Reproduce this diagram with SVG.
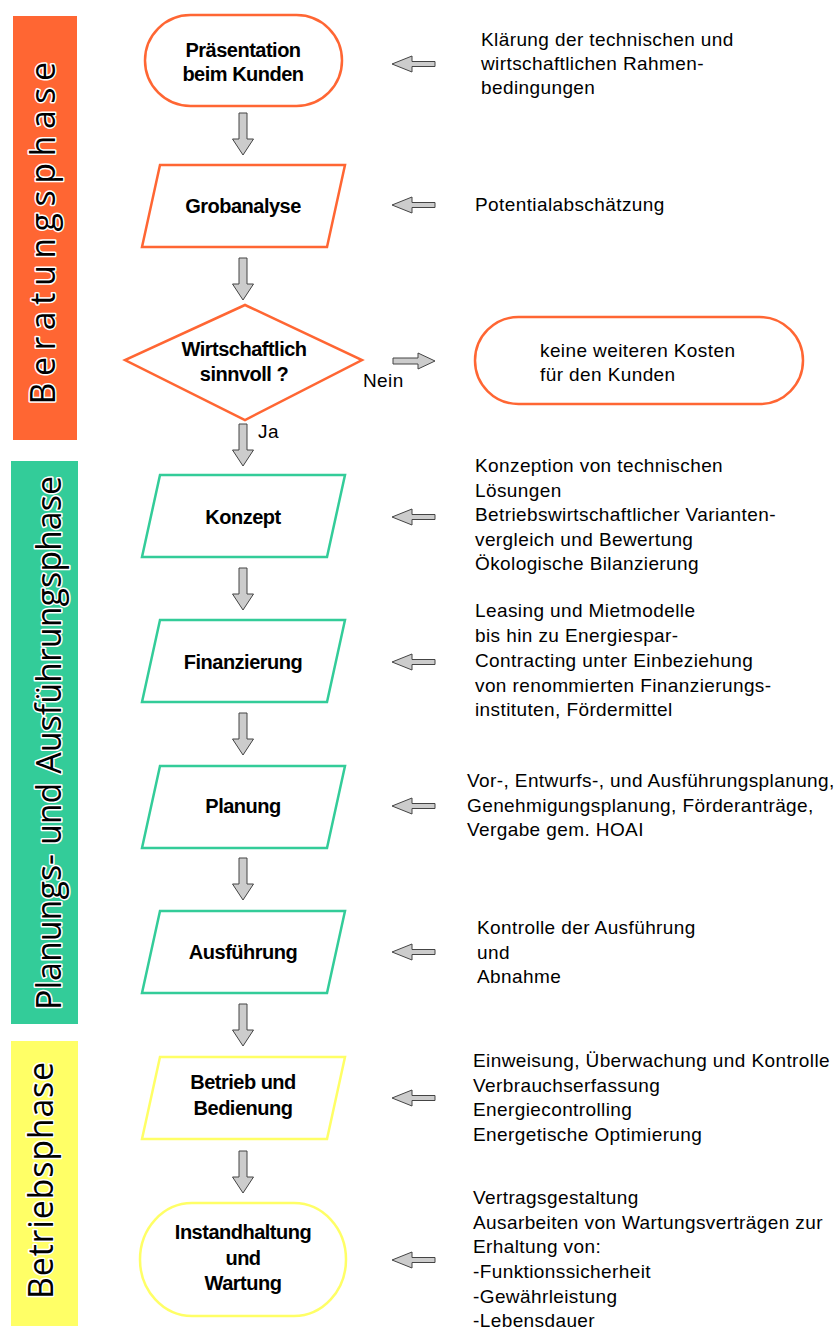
<svg xmlns="http://www.w3.org/2000/svg" width="839" height="1329" viewBox="0 0 839 1329">
<defs>
<path id="down" d="M -4,0 H 4 V 26 H 10.5 L 0,42 L -10.5,26 H -4 Z"/>
<path id="left" d="M 0,0 L 20,-8 V -2.5 H 43 V 2.5 H 20 V 8 Z"/>
<style>
.bg{fill:#ffffff}
.phase{font-family:"Open Sans","Noto Sans",sans-serif;font-size:34px;fill:#000;stroke:#fff;stroke-width:3px;paint-order:stroke;stroke-linejoin:round;text-anchor:middle}
.o{fill:#fff;stroke:#FF6633;stroke-width:2.5}
.g{fill:#fff;stroke:#33CC99;stroke-width:2.5}
.y{fill:#fff;stroke:#FFFF66;stroke-width:2.5}
.nt{font-family:"Liberation Sans",Arial,sans-serif;font-weight:bold;font-size:20px;fill:#000;text-anchor:middle;letter-spacing:-0.5px}
.rt{font-family:"Liberation Sans",Arial,sans-serif;font-size:19px;fill:#000;letter-spacing:0.4px}
.arr{fill:#CCCCCC;stroke:#444;stroke-width:1}
</style>
</defs>
<rect class="bg" x="0" y="0" width="839" height="1329"/>

<g id="phase-beratung">
<rect x="13" y="16" width="64" height="424" fill="#FF6633"/>
<text class="phase" transform="translate(55,230) rotate(-90)" letter-spacing="6.5">Beratungsphase</text>
</g>
<g id="phase-planung">
<rect x="11" y="461" width="67" height="563" fill="#33CC99"/>
<text class="phase" transform="translate(61,743) rotate(-90)">Planungs- und Ausführungsphase</text>
</g>
<g id="phase-betrieb">
<rect x="11" y="1041" width="67" height="285" fill="#FFFF66"/>
<text class="phase" transform="translate(53,1180) rotate(-90)" letter-spacing="0.8">Betriebsphase</text>
</g>

<g id="connectors">
<use href="#down" class="arr" x="243" y="113"/>
<use href="#down" class="arr" x="243" y="258"/>
<use href="#down" class="arr" x="243" y="424"/>
<use href="#down" class="arr" x="243" y="568"/>
<use href="#down" class="arr" x="243" y="713"/>
<use href="#down" class="arr" x="243" y="858"/>
<use href="#down" class="arr" x="243" y="1004"/>
<use href="#down" class="arr" x="243" y="1151"/>
<use href="#left" class="arr" x="392" y="64"/>
<use href="#left" class="arr" x="392" y="205"/>
<use href="#left" class="arr" x="392" y="517"/>
<use href="#left" class="arr" x="392" y="662"/>
<use href="#left" class="arr" x="392" y="806"/>
<use href="#left" class="arr" x="392" y="952"/>
<use href="#left" class="arr" x="392" y="1098"/>
<use href="#left" class="arr" x="392" y="1260"/>
<path class="arr" d="M 435,361 L 418,353 V 358 H 393 V 364 H 418 V 369 Z"/>
<text class="rt" x="363" y="387" letter-spacing="0">Nein</text>
<text class="rt" x="258" y="438" letter-spacing="0">Ja</text>
</g>

<g id="n-praesentation">
<rect class="o" x="145" y="15" width="197" height="91" rx="45.5" ry="45.5"/>
<text class="nt" x="243" y="57">Präsentation</text>
<text class="nt" x="243" y="81">beim Kunden</text>
</g>
<g id="n-grobanalyse">
<polygon class="o" points="160,165 345,165 327,247 142,247"/>
<text class="nt" x="243" y="213">Grobanalyse</text>
</g>
<g id="n-wirtschaftlich">
<polygon class="o" points="245,305 362,360 245,420 125,360"/>
<text class="nt" x="244" y="356">Wirtschaftlich</text>
<text class="nt" x="244" y="381">sinnvoll ?</text>
</g>
<g id="n-keine">
<rect class="o" x="475" y="317" width="328" height="87" rx="43.5" ry="43.5"/>
<text class="rt" x="540" y="357">keine weiteren Kosten</text>
<text class="rt" x="540" y="381">für den Kunden</text>
</g>
<g id="n-konzept">
<polygon class="g" points="160,475 345,475 327,557 142,557"/>
<text class="nt" x="243" y="524">Konzept</text>
</g>
<g id="n-finanzierung">
<polygon class="g" points="160,620 345,620 327,702 142,702"/>
<text class="nt" x="243" y="669">Finanzierung</text>
</g>
<g id="n-planung">
<polygon class="g" points="160,766 345,766 327,848 142,848"/>
<text class="nt" x="243" y="813">Planung</text>
</g>
<g id="n-ausfuehrung">
<polygon class="g" points="160,911 345,911 327,993 142,993"/>
<text class="nt" x="243" y="959">Ausführung</text>
</g>
<g id="n-betrieb">
<polygon class="y" points="160,1057 345,1057 327,1139 142,1139"/>
<text class="nt" x="243" y="1089">Betrieb und</text>
<text class="nt" x="243" y="1115">Bedienung</text>
</g>
<g id="n-instandhaltung">
<rect class="y" x="140" y="1203" width="206" height="113" rx="52" ry="56.5"/>
<text class="nt" x="243" y="1239">Instandhaltung</text>
<text class="nt" x="243" y="1265">und</text>
<text class="nt" x="243" y="1290">Wartung</text>
</g>

<g id="t-klaerung">
<text class="rt" x="481" y="46">Klärung der technischen und</text>
<text class="rt" x="481" y="70">wirtschaftlichen Rahmen-</text>
<text class="rt" x="481" y="94">bedingungen</text>
</g>
<g id="t-potential">
<text class="rt" x="475" y="211">Potentialabschätzung</text>
</g>
<g id="t-konzept">
<text class="rt" x="475" y="472">Konzeption von technischen</text>
<text class="rt" x="475" y="497">Lösungen</text>
<text class="rt" x="475" y="521">Betriebswirtschaftlicher Varianten-</text>
<text class="rt" x="475" y="546">vergleich und Bewertung</text>
<text class="rt" x="475" y="570">Ökologische Bilanzierung</text>
</g>
<g id="t-finanzierung">
<text class="rt" x="475" y="617">Leasing und Mietmodelle</text>
<text class="rt" x="475" y="642">bis hin zu Energiespar-</text>
<text class="rt" x="475" y="667">Contracting unter Einbeziehung</text>
<text class="rt" x="475" y="692">von renommierten Finanzierungs-</text>
<text class="rt" x="475" y="716">instituten, Fördermittel</text>
</g>
<g id="t-planung">
<text class="rt" x="467" y="787" letter-spacing="0.3">Vor-, Entwurfs-, und Ausführungsplanung,</text>
<text class="rt" x="467" y="812">Genehmigungsplanung, Förderanträge,</text>
<text class="rt" x="467" y="836">Vergabe gem. HOAI</text>
</g>
<g id="t-ausfuehrung">
<text class="rt" x="477" y="934">Kontrolle der Ausführung</text>
<text class="rt" x="477" y="959">und</text>
<text class="rt" x="477" y="983">Abnahme</text>
</g>
<g id="t-betrieb">
<text class="rt" x="473" y="1067">Einweisung, Überwachung und Kontrolle</text>
<text class="rt" x="473" y="1092">Verbrauchserfassung</text>
<text class="rt" x="473" y="1116">Energiecontrolling</text>
<text class="rt" x="473" y="1141">Energetische Optimierung</text>
</g>
<g id="t-instandhaltung">
<text class="rt" x="473" y="1204">Vertragsgestaltung</text>
<text class="rt" x="473" y="1229">Ausarbeiten von Wartungsverträgen zur</text>
<text class="rt" x="473" y="1253">Erhaltung von:</text>
<text class="rt" x="473" y="1278">-Funktionssicherheit</text>
<text class="rt" x="473" y="1303">-Gewährleistung</text>
<text class="rt" x="473" y="1327">-Lebensdauer</text>
</g>
</svg>
